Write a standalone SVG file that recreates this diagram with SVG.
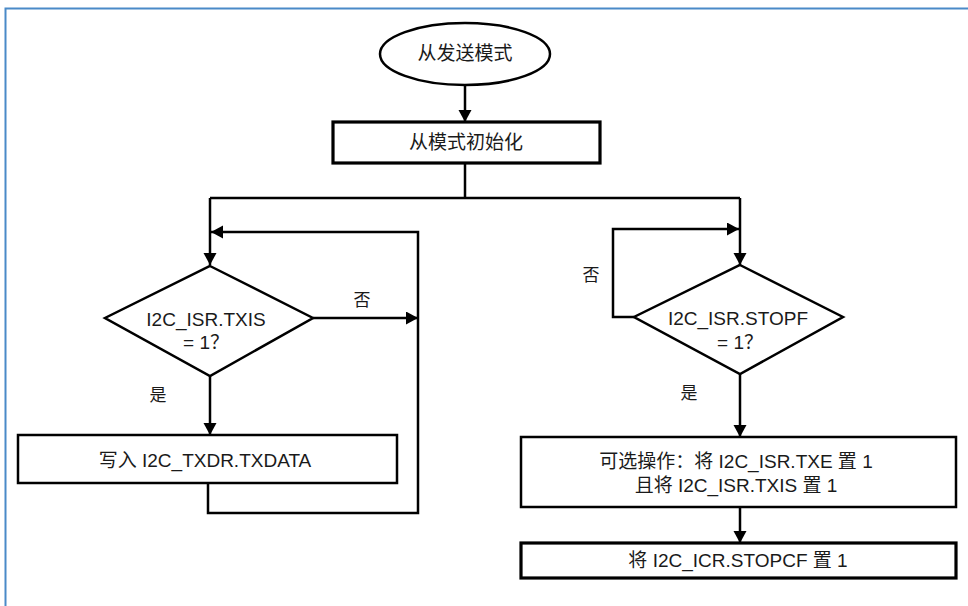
<svg xmlns="http://www.w3.org/2000/svg" width="968" height="606" viewBox="0 0 968 606">
<style>
.n{fill:#fff;stroke:#000;stroke-width:2.5}
.nt{fill:#fff;stroke:#000;stroke-width:3.2}
.c{fill:none;stroke:#000;stroke-width:2.5;stroke-linejoin:miter}
text{font-family:"Liberation Sans","Noto Sans CJK SC",sans-serif;font-size:19px;fill:#1a1a1a;text-anchor:middle}
.lb{font-size:17px}
</style>
<defs>
<marker id="ah" markerUnits="userSpaceOnUse" markerWidth="14" markerHeight="14" refX="12" refY="6.5" orient="auto">
<path d="M0,0 L12,6.5 L0,13 z" fill="#000"/>
</marker>
</defs>
<rect width="968" height="606" fill="#fff"/>
<path d="M5.5,606 V8.5 H968" fill="none" stroke="#4a8ac8" stroke-width="2"/>
<g id="connectors">
<path class="c" d="M465,86 V122" marker-end="url(#ah)"/>
<path class="c" d="M465,163 V198 M210,198 H740"/>
<path class="c" d="M210,198 V265" marker-end="url(#ah)"/>
<path class="c" d="M740,198 V265" marker-end="url(#ah)"/>
<path class="c" d="M313,318 H418" marker-end="url(#ah)"/>
<path class="c" d="M208,483 V513 H418 V232 H211" marker-end="url(#ah)"/>
<path class="c" d="M210,376 V435" marker-end="url(#ah)"/>
<path class="c" d="M634,317 H613 V229 H739" marker-end="url(#ah)"/>
<path class="c" d="M740,374 V437" marker-end="url(#ah)"/>
<path class="c" d="M740,507 V543" marker-end="url(#ah)"/>
</g>
<g id="start">
<ellipse class="n" cx="465" cy="54" rx="85" ry="31"/>
<text x="465" y="60">从发送模式</text>
</g>
<g id="init">
<rect class="nt" x="333" y="122" width="267" height="41"/>
<text x="466" y="149">从模式初始化</text>
</g>
<g id="dec1">
<polygon class="n" points="210,266 313,318 210,376 105,318"/>
<text x="206" y="326">I2C_ISR.TXIS</text>
<text x="206" y="349">= 1？</text>
</g>
<g id="write">
<rect class="n" x="18" y="435" width="379" height="48"/>
<text x="205" y="467">写入 I2C_TXDR.TXDATA</text>
</g>
<g id="dec2">
<polygon class="n" points="740,265 843,317 740,374 634,317"/>
<text x="738" y="325">I2C_ISR.STOPF</text>
<text x="740" y="349">= 1？</text>
</g>
<g id="opt">
<rect class="n" x="521" y="437" width="435" height="70"/>
<text x="736" y="468">可选操作：将 I2C_ISR.TXE 置 1</text>
<text x="736" y="492">且将 I2C_ISR.TXIS 置 1</text>
</g>
<g id="stopcf">
<rect class="nt" x="521" y="543" width="435" height="35"/>
<text x="738" y="567">将 I2C_ICR.STOPCF 置 1</text>
</g>
<g id="labels">
<text class="lb" x="362" y="306">否</text>
<text class="lb" x="158" y="401">是</text>
<text class="lb" x="591" y="281">否</text>
<text class="lb" x="689" y="399">是</text>
</g>
</svg>
